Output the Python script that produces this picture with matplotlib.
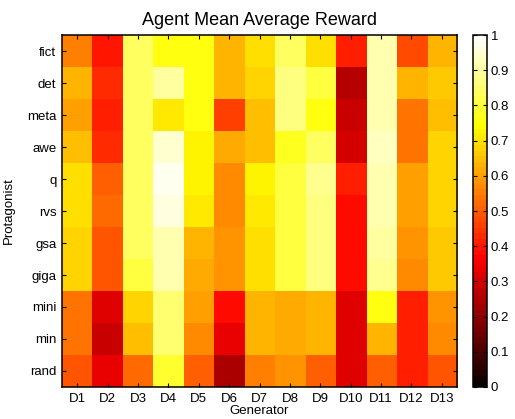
import numpy as np
import matplotlib
matplotlib.use("Agg")
import matplotlib.pyplot as plt
from matplotlib.colors import ListedColormap

generators = ["D1", "D2", "D3", "D4", "D5", "D6", "D7", "D8", "D9", "D10", "D11", "D12", "D13"]
protagonists = ["fict", "det", "meta", "awe", "q", "rvs", "gsa", "giga", "mini", "min", "rand"]

row_fict = [0.56, 0.40, 0.83, 0.75, 0.76, 0.625, 0.69, 0.84, 0.69, 0.41, 0.92, 0.47, 0.64]
row_det  = [0.64, 0.43, 0.83, 0.90, 0.76, 0.625, 0.68, 0.86, 0.81, 0.265, 0.92, 0.625, 0.67]
row_meta = [0.60, 0.42, 0.83, 0.71, 0.75, 0.46, 0.655, 0.87, 0.75, 0.29, 0.92, 0.54, 0.655]
row_awe  = [0.645, 0.43, 0.83, 0.95, 0.73, 0.61, 0.655, 0.78, 0.84, 0.31, 0.93, 0.545, 0.675]
row_q    = [0.70, 0.50, 0.83, 0.97, 0.73, 0.57, 0.72, 0.81, 0.88, 0.41, 0.92, 0.60, 0.68]
row_rvs  = [0.69, 0.52, 0.83, 0.965, 0.71, 0.57, 0.71, 0.81, 0.87, 0.375, 0.91, 0.595, 0.68]
row_gsa  = [0.68, 0.485, 0.83, 0.92, 0.625, 0.58, 0.70, 0.81, 0.87, 0.375, 0.90, 0.58, 0.67]
row_giga = [0.675, 0.485, 0.81, 0.92, 0.61, 0.58, 0.70, 0.80, 0.86, 0.375, 0.89, 0.565, 0.67]
row_mini = [0.54, 0.315, 0.675, 0.85, 0.595, 0.375, 0.625, 0.61, 0.64, 0.325, 0.75, 0.41, 0.58]
row_min  = [0.54, 0.295, 0.645, 0.85, 0.57, 0.33, 0.625, 0.62, 0.63, 0.325, 0.625, 0.41, 0.565]
row_rand = [0.49, 0.33, 0.52, 0.79, 0.50, 0.235, 0.56, 0.59, 0.515, 0.325, 0.515, 0.41, 0.49]

values = np.array([row_fict, row_det, row_meta, row_awe, row_q, row_rvs, row_gsa,
                   row_giga, row_mini, row_min, row_rand])

# MATLAB-style hot(64) colormap
n = 64
n1 = int(3 / 8 * n)
r = np.concatenate([np.arange(1, n1 + 1) / n1, np.ones(n - n1)])
g = np.concatenate([np.zeros(n1), np.arange(1, n1 + 1) / n1, np.ones(n - 2 * n1)])
b = np.concatenate([np.zeros(2 * n1), np.arange(1, n - 2 * n1 + 1) / (n - 2 * n1)])
cmap = ListedColormap(np.column_stack([r, g, b]))

plt.rcParams['font.family'] = ['Liberation Sans', 'DejaVu Sans']

fig = plt.figure(figsize=(5.15, 4.19), dpi=100)
ax = fig.add_axes([0.1204, 0.0764, 0.767, 0.840])
im = ax.imshow(values, cmap=cmap, vmin=0, vmax=1, aspect='auto', interpolation='nearest')

ax.set_xticks(np.arange(len(generators)))
ax.set_xticklabels(generators, fontsize=9.5)
ax.set_yticks(np.arange(len(protagonists)))
ax.set_yticklabels(protagonists, fontsize=9.5)
ax.tick_params(direction='in', length=3, top=True, right=True, width=0.8, pad=4)
for s in ax.spines.values():
    s.set_linewidth(1.1)
ax.set_title("Agent Mean Average Reward", fontsize=13, pad=7)
ax.set_xlabel("Generator", fontsize=9.5, labelpad=0)
ax.set_ylabel("Protagonist", fontsize=9.5, labelpad=9)

cax = fig.add_axes([0.918, 0.0764, 0.027, 0.840])
cb = fig.colorbar(im, cax=cax)
cb.set_ticks(np.arange(0, 1.01, 0.1))
cb.set_ticklabels(["0", "0.1", "0.2", "0.3", "0.4", "0.5", "0.6", "0.7", "0.8", "0.9", "1"])
cb.ax.tick_params(direction='in', length=3, labelsize=9.5, width=0.8, left=True, pad=3)
cb.outline.set_linewidth(1.1)

fig.savefig("out.png", dpi=100)
